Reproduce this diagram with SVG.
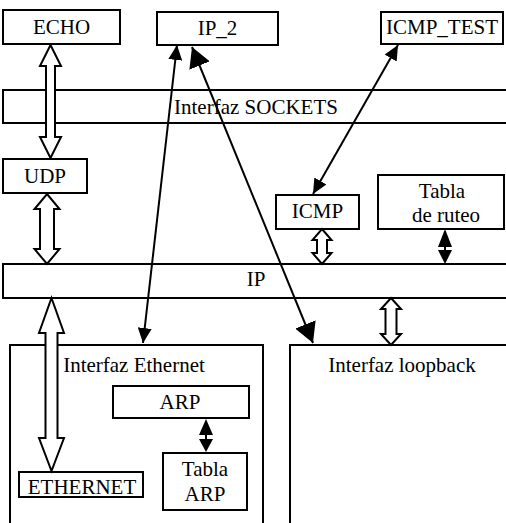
<svg xmlns="http://www.w3.org/2000/svg" width="506" height="523" viewBox="0 0 506 523">
<style>
.box{fill:#fff;stroke:#000;stroke-width:2}
.t{font-family:'Liberation Serif','Times New Roman','DejaVu Serif',serif;font-size:21px;fill:#000;text-anchor:middle}
.hollow{fill:#fff;stroke:#000;stroke-width:2;stroke-linejoin:miter}
.solid{fill:#000;stroke:none}
.ln{stroke:#000;stroke-width:2;fill:none}
</style>
<defs>
<marker id="hs" viewBox="0 0 15 14" refX="15" refY="7" markerWidth="15" markerHeight="14" markerUnits="userSpaceOnUse" orient="auto-start-reverse">
<path d="M0,0 L15,7 L0,14 Z" fill="#000"/>
</marker>
<marker id="hb" viewBox="0 0 20 22" refX="20" refY="11" markerWidth="20" markerHeight="22" markerUnits="userSpaceOnUse" orient="auto-start-reverse">
<path d="M0,0 L20,11 L0,22 Z" fill="#000"/>
</marker>
</defs>
<rect width="506" height="523" fill="#fff"/>
<g font-family="Liberation Serif, Times New Roman, serif">
<g id="iface-ethernet"><rect class="box" x="10" y="345" width="253" height="190"/><text class="t" x="134" y="372">Interfaz Ethernet</text></g>
<g id="iface-loopback"><rect class="box" x="290" y="345" width="240" height="190"/><text class="t" x="402" y="372">Interfaz loopback</text></g>
<g id="sockets"><rect class="box" x="3" y="90" width="520" height="33"/><text class="t" x="256" y="114">Interfaz SOCKETS</text></g>
<g id="ip"><rect class="box" x="3" y="264" width="520" height="34"/><text class="t" x="256" y="286">IP</text></g>
<g id="echo"><rect class="box" x="3" y="10" width="117" height="34"/><text class="t" x="61.5" y="34">ECHO</text></g>
<g id="ip2"><rect class="box" x="157" y="12" width="121" height="33"/><text class="t" x="217.5" y="35">IP_2</text></g>
<g id="icmp-test"><rect class="box" x="381" y="12" width="122" height="32"/><text class="t" x="442" y="34">ICMP_TEST</text></g>
<g id="udp"><rect class="box" x="3" y="159" width="84" height="34"/><text class="t" x="45" y="183">UDP</text></g>
<g id="icmp"><rect class="box" x="276" y="195" width="83" height="34"/><text class="t" x="317.5" y="218">ICMP</text></g>
<g id="tabla-ruteo"><rect class="box" x="378" y="175" width="126" height="54"/><text class="t" x="442" y="198">Tabla</text><text class="t" x="446" y="222">de ruteo</text></g>
<g id="arp"><rect class="box" x="113" y="386" width="136" height="32"/><text class="t" x="180" y="409">ARP</text></g>
<g id="tabla-arp"><rect class="box" x="163" y="453" width="84" height="57"/><text class="t" x="205" y="476">Tabla</text><text class="t" x="205" y="501">ARP</text></g>
<g id="ethernet"><rect class="box" x="19" y="472" width="124" height="25"/><text class="t" x="82" y="494">ETHERNET</text></g>
</g>
<g id="connectors">
<polygon class="hollow" points="50.5,45 61,66 55,66 55,137 61,137 50.5,158 40,137 46,137 46,66 40,66"/>
<polygon class="hollow" points="47,194 59.5,209 54,209 54,249 59.5,249 47,264 34.5,249 40,249 40,209 34.5,209"/>
<polygon class="hollow" points="51.5,298 64,333 57.5,333 57.5,438 64,438 51.5,471 39,438 45.5,438 45.5,333 39,333"/>
<polygon class="hollow" points="322,229 331.5,240 327,240 327,253 331.5,253 322,264 312.5,253 317,253 317,240 312.5,240"/>
<polygon class="hollow" points="391,298 401,309 396.5,309 396.5,334 401,334 391,345 381,334 385.5,334 385.5,309 381,309"/>
<line class="ln" x1="445" y1="240" x2="445" y2="255"/>
<polygon class="solid" points="445,229 452,247 438,247"/>
<polygon class="solid" points="445,264 452,250 438,250"/>
<line class="ln" x1="206" y1="430" x2="206" y2="445"/>
<polygon class="solid" points="206,419 213,435 199,435"/>
<polygon class="solid" points="206,452 213,439 199,439"/>
<line class="ln" x1="177" y1="45" x2="143" y2="343" marker-start="url(#hs)" marker-end="url(#hs)"/>
<line class="ln" x1="192" y1="47" x2="313" y2="343" marker-start="url(#hb)" marker-end="url(#hb)"/>
<line class="ln" x1="398" y1="45" x2="313" y2="194" marker-start="url(#hs)" marker-end="url(#hs)"/>
</g>
</svg>
